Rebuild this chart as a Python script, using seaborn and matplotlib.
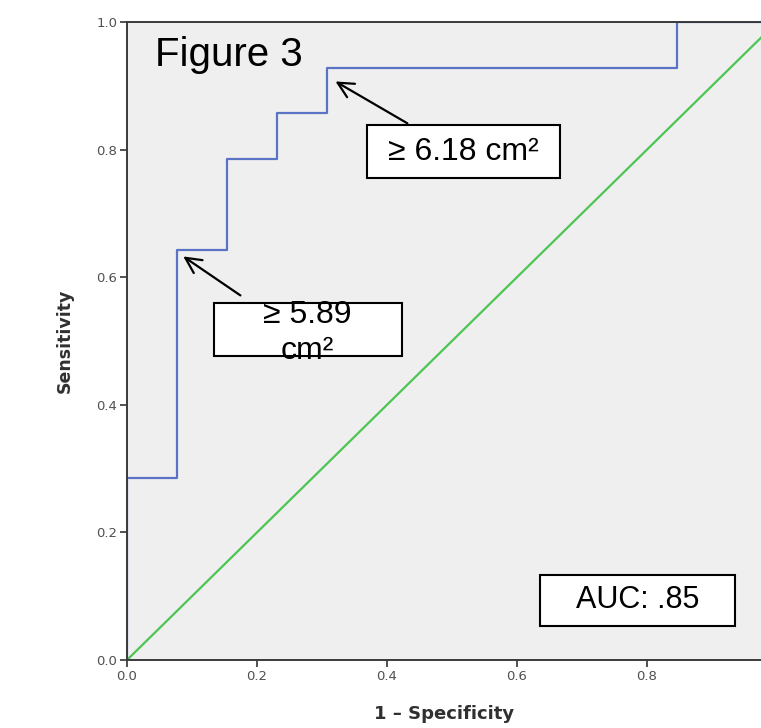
import matplotlib
matplotlib.use("Agg")
import matplotlib.pyplot as plt
import pandas as pd
import seaborn as sns
from matplotlib.patches import Rectangle

# ROC data (1 - specificity, sensitivity)
fpr = [0.0, 0.0, 1/13, 1/13, 2/13, 2/13, 3/13, 3/13, 4/13, 4/13, 11/13, 11/13, 1.0]
tpr = [0.0, 4/14, 4/14, 9/14, 9/14, 11/14, 11/14, 12/14, 12/14, 13/14, 13/14, 1.0, 1.0]
ref_x = [0.0, 1.0]
ref_y = [0.0, 1.0]
xticks = [0.0, 0.2, 0.4, 0.6, 0.8, 1.0]
yticks = [0.0, 0.2, 0.4, 0.6, 0.8, 1.0]

sns.set_theme(style="ticks")
arial = ['Liberation Sans', 'DejaVu Sans']

fig = plt.figure(figsize=(7.61, 7.28), dpi=100)
ax = fig.add_axes([0.1669, 0.0934, 0.8331, 0.8764])
ax.set_facecolor("#efefef")

roc = pd.DataFrame({"fpr": fpr, "tpr": tpr})
diag = pd.DataFrame({"fpr": ref_x, "tpr": ref_y})
sns.lineplot(data=diag, x="fpr", y="tpr", sort=False, estimator=None,
             color="#4cc552", linewidth=1.6, ax=ax)
sns.lineplot(data=roc, x="fpr", y="tpr", sort=False, estimator=None,
             color="#5b73c4", linewidth=1.6, ax=ax)

ax.set_xlim(0, 0.9754)
ax.set_ylim(0, 1.0)
ax.set_xticks(xticks[:-1])
ax.set_yticks(yticks)
ax.set_xticklabels([f"{t:.1f}" for t in xticks[:-1]])
ax.set_yticklabels([f"{t:.1f}" for t in yticks])
ax.tick_params(axis="both", direction="out", length=5, width=1.2,
               color="#333333", labelsize=9.5, labelcolor="#505050", pad=2)

for s in ["left", "bottom", "top"]:
    ax.spines[s].set_visible(True)
    ax.spines[s].set_color("#3a3a3a")
    ax.spines[s].set_linewidth(1.4)
ax.spines["right"].set_visible(False)

ax.set_xlabel("1 \u2013 Specificity", fontsize=13, fontweight="bold",
              color="#303030", labelpad=16)
ax.set_ylabel("Sensitivity", fontsize=12.5, fontweight="bold",
              color="#303030", labelpad=16)

ax.text(0.043, 0.949, "Figure 3", family=arial, fontsize=29,
        ha="left", va="center", color="black")

boxes = [(0.369, 0.755, 0.297, 0.084),
         (0.134, 0.476, 0.289, 0.084),
         (0.635, 0.053, 0.300, 0.080)]
for bx, by, bw, bh in boxes:
    ax.add_patch(Rectangle((bx, by), bw, bh, facecolor="white",
                           edgecolor="black", linewidth=1.5, zorder=3))

ax.text(0.517, 0.797, "\u2265 6.18 cm\u00b2", family=arial, fontsize=23,
        ha="center", va="center", color="black", zorder=4)
ax.text(0.278, 0.512, "\u2265 5.89\ncm\u00b2", family=arial, fontsize=23,
        ha="center", va="center", color="black", linespacing=1.25, zorder=4)
ax.text(0.785, 0.094, "AUC: .85", family=arial, fontsize=22,
        ha="center", va="center", color="black", zorder=4)

arrow = dict(arrowstyle="->", color="black", linewidth=1.6, mutation_scale=28)
ax.annotate("", xy=(0.083, 0.635), xytext=(0.178, 0.569), arrowprops=arrow, zorder=4)
ax.annotate("", xy=(0.317, 0.909), xytext=(0.435, 0.839), arrowprops=arrow, zorder=4)

fig.savefig("out.png", dpi=100)
